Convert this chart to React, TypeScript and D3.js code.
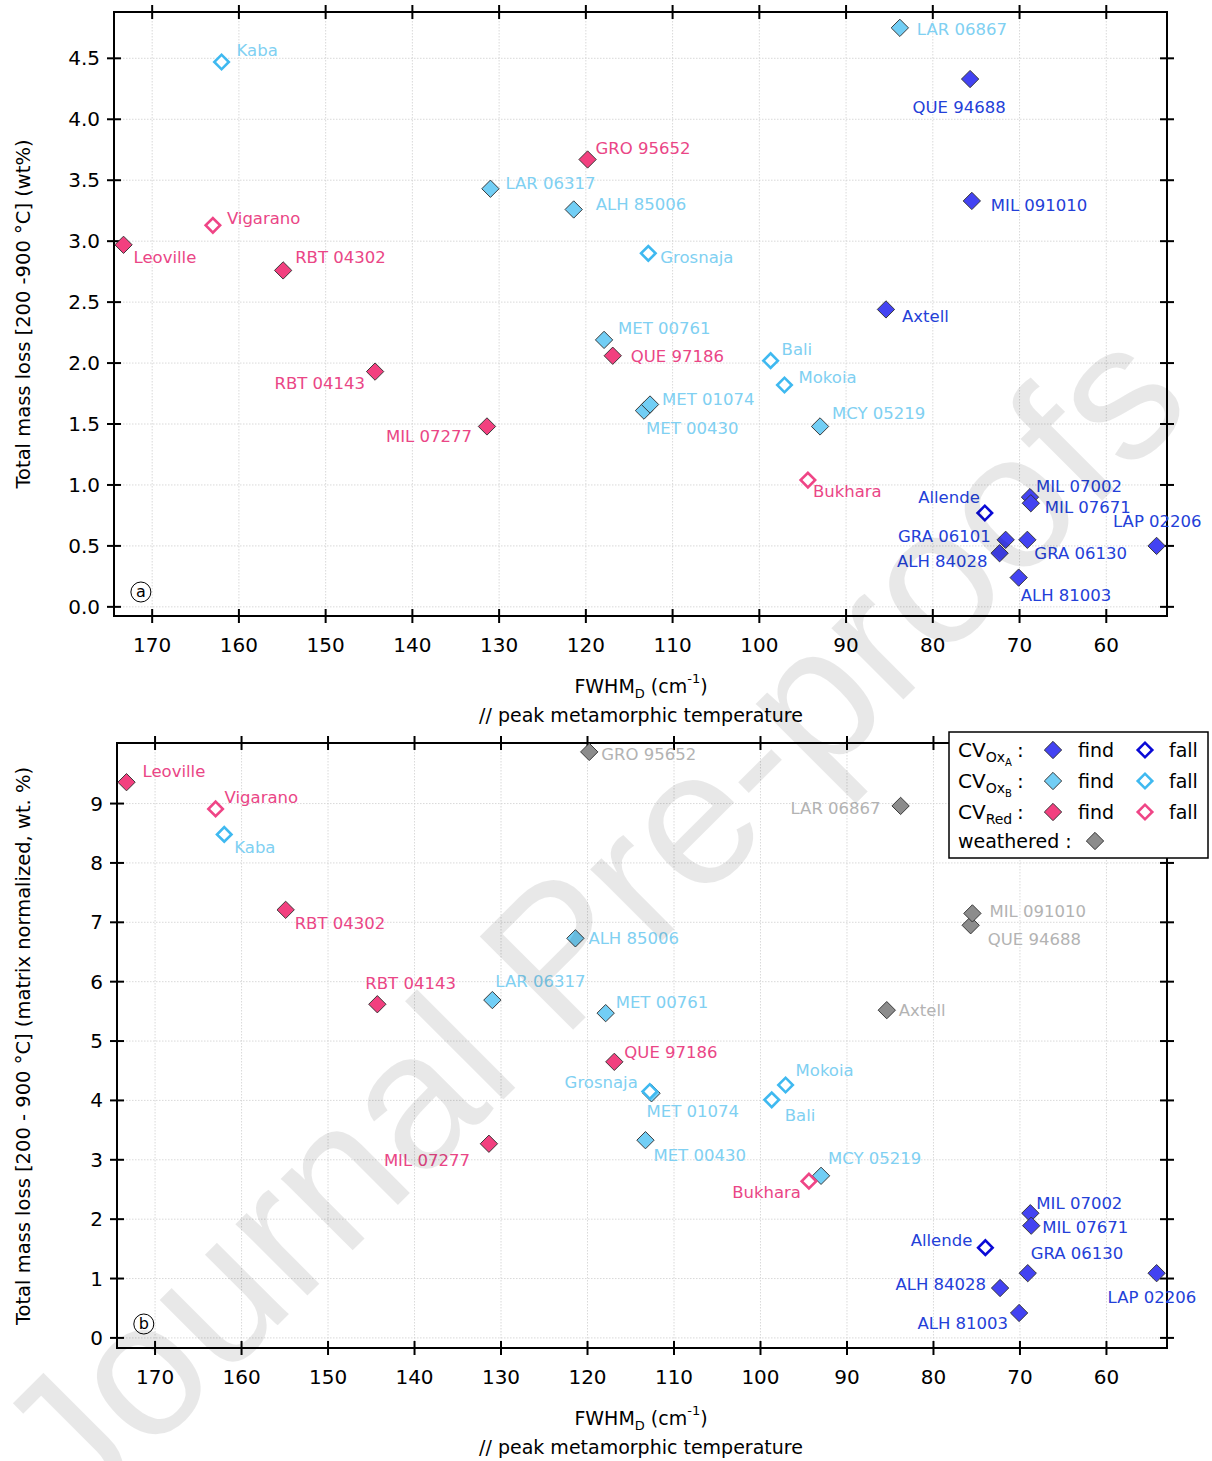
import React from 'react';
import * as d3 from 'd3';

const FONT = '"DejaVu Sans", Verdana, sans-serif';

// ---------- data ----------
const sampleNames = [
  'Leoville', 'Vigarano', 'Kaba', 'RBT 04302', 'RBT 04143', 'MIL 07277', 'LAR 06317',
  'GRO 95652', 'ALH 85006', 'Grosnaja', 'MET 00761', 'QUE 97186', 'MET 00430', 'MET 01074',
  'Bali', 'Mokoia', 'MCY 05219', 'Bukhara', 'LAR 06867', 'QUE 94688', 'MIL 091010', 'Axtell',
  'Allende', 'MIL 07002', 'MIL 07671', 'GRA 06101', 'ALH 84028', 'GRA 06130', 'ALH 81003', 'LAP 02206',
];
const sampleClass = [
  'Red', 'Red', 'B', 'Red', 'Red', 'Red', 'B',
  'Red', 'B', 'B', 'B', 'Red', 'B', 'B',
  'B', 'B', 'B', 'Red', 'B', 'A', 'A', 'A',
  'A', 'A', 'A', 'A', 'A', 'A', 'A', 'A',
];
const sampleFall = [
  false, true, true, false, false, false, false,
  false, false, true, false, false, false, false,
  true, true, false, true, false, false, false, false,
  true, false, false, false, false, false, false, false,
];
const weatheredInB = [
  false, false, false, false, false, false, false,
  true, false, false, false, false, false, false,
  false, false, false, false, true, true, true, true,
  false, false, false, false, false, false, false, false,
];
const fwhmD = [
  173.3, 163.0, 162.0, 154.9, 144.3, 131.4, 131.0,
  119.8, 121.4, 112.8, 117.9, 116.9, 113.3, 112.6,
  98.7, 97.1, 93.0, 94.4, 83.8, 75.7, 75.5, 85.4,
  74.0, 68.8, 68.7, 71.6, 72.3, 69.1, 70.1, 54.2,
];
const massLossTotal = [
  2.97, 3.13, 4.47, 2.76, 1.93, 1.48, 3.43,
  3.67, 3.26, 2.90, 2.19, 2.06, 1.61, 1.66,
  2.02, 1.82, 1.48, 1.04, 4.75, 4.33, 3.33, 2.44,
  0.77, 0.90, 0.85, 0.55, 0.44, 0.55, 0.24, 0.50,
];
const massLossMatrix = [
  9.36, 8.91, 8.48, 7.21, 5.62, 3.27, 5.69,
  9.87, 6.73, 4.15, 5.47, 4.65, 3.33, 4.12,
  4.01, 4.26, 2.73, 2.64, 8.96, 6.95, 7.15, 5.52,
  1.52, 2.10, 1.89, null, 0.84, 1.09, 0.42, 1.09,
];
const xTicks = [170, 160, 150, 140, 130, 120, 110, 100, 90, 80, 70, 60];
const yTicksA = [0, 0.5, 1.0, 1.5, 2.0, 2.5, 3.0, 3.5, 4.0, 4.5];
const yTicksB = [0, 1, 2, 3, 4, 5, 6, 7, 8, 9];

// label placement (pixel offset from marker, anchor)
const labelPosA: Record<string, [number, number, string]> = {
  'Leoville': [10, 12, 'start'], 'Vigarano': [14, -7, 'start'], 'Kaba': [15, -12, 'start'],
  'RBT 04302': [12, -13, 'start'], 'RBT 04143': [-10, 11, 'end'], 'MIL 07277': [-15, 10, 'end'],
  'LAR 06317': [15, -6, 'start'], 'GRO 95652': [8, -11, 'start'], 'ALH 85006': [22, -5, 'start'],
  'Grosnaja': [12, 4, 'start'], 'MET 00761': [14, -12, 'start'], 'QUE 97186': [18, 0, 'start'],
  'MET 01074': [12, -5, 'start'], 'MET 00430': [2, 17, 'start'], 'Bali': [11, -12, 'start'],
  'Mokoia': [14, -8, 'start'], 'MCY 05219': [12, -13, 'start'], 'Bukhara': [5, 11, 'start'],
  'LAR 06867': [17, 1, 'start'], 'QUE 94688': [-11, 28, 'middle'], 'MIL 091010': [19, 4, 'start'],
  'Axtell': [16, 7, 'start'], 'Allende': [-5, -16, 'end'], 'MIL 07002': [6, -11, 'start'],
  'MIL 07671': [14, 4, 'start'], 'LAP 02206': [45, -25, 'end'], 'GRA 06101': [-15, -4, 'end'],
  'ALH 84028': [-12, 8, 'end'], 'GRA 06130': [7, 13, 'start'], 'ALH 81003': [2, 17, 'start'],
};
const labelPosB: Record<string, [number, number, string]> = {
  'Leoville': [16, -11, 'start'], 'Vigarano': [9, -12, 'start'], 'Kaba': [10, 13, 'start'],
  'RBT 04302': [9, 13, 'start'], 'RBT 04143': [-12, -21, 'start'], 'MIL 07277': [-19, 16, 'end'],
  'LAR 06317': [3, -19, 'start'], 'GRO 95652': [12, 2, 'start'], 'ALH 85006': [13, 0, 'start'],
  'Grosnaja': [-12, -9, 'end'], 'MET 00761': [10, -11, 'start'], 'QUE 97186': [10, -10, 'start'],
  'MET 01074': [-5, 18, 'start'], 'MET 00430': [8, 15, 'start'], 'Bali': [13, 15, 'start'],
  'Mokoia': [10, -15, 'start'], 'MCY 05219': [7, -18, 'start'], 'Bukhara': [-8, 11, 'end'],
  'LAR 06867': [-20, 2, 'end'], 'MIL 091010': [17, -2, 'start'], 'QUE 94688': [17, 14, 'start'],
  'Axtell': [12, 0, 'start'], 'Allende': [-13, -8, 'end'], 'MIL 07002': [6, -10, 'start'],
  'MIL 07671': [11, 1, 'start'], 'GRA 06130': [3, -20, 'start'], 'ALH 84028': [-14, -4, 'end'],
  'ALH 81003': [-11, 10, 'end'], 'LAP 02206': [-49, 24, 'start'],
};

// ---------- styles ----------
const findFill: Record<string, string> = { A: '#4343f2', B: '#72cef5', Red: '#f2407f', W: '#8c8c8c' };
const fallStroke: Record<string, string> = { A: '#0a0ad6', B: '#3fb9f0', Red: '#ef4586' };
const labelColor: Record<string, string> = { A: '#2340d8', B: '#80d0f2', Red: '#ea4686', W: '#b3b3b3' };

const diamondPath = d3.symbol().type(d3.symbolSquare).size(150)() as string;
const diamondPathFall = d3.symbol().type(d3.symbolSquare).size(105)() as string;

function Marker({ cx, cy, cls, fall }: { cx: number; cy: number; cls: string; fall: boolean }) {
  if (fall) {
    return (
      <path d={diamondPathFall} transform={`translate(${cx},${cy}) rotate(45)`} fill="#fff"
        stroke={fallStroke[cls]} strokeWidth={2.6} />
    );
  }
  return (
    <path d={diamondPath} transform={`translate(${cx},${cy}) rotate(45)`} fill={findFill[cls]}
      stroke="#333" strokeWidth={0.9} />
  );
}

const xDomain = [174.4, 53];

type PanelProps = {
  left: number; right: number; top: number; bottom: number;
  yDomain: [number, number]; values: (number | null)[]; useWeathered: boolean;
  labelPos: Record<string, [number, number, string]>; yTicks: number[]; yFmt: (v: number) => string;
  letter: string; yTitle: string; yTitleY: number;
};

function Panel(p: PanelProps) {
  const x = d3.scaleLinear().domain(xDomain).range([p.left, p.right]);
  const y = d3.scaleLinear().domain(p.yDomain).range([p.bottom, p.top]);
  const pts = sampleNames.map((name, i) => ({
    name, cls: p.useWeathered && weatheredInB[i] ? 'W' : sampleClass[i],
    fall: sampleFall[i], xv: fwhmD[i], yv: p.values[i],
  })).filter(d => d.yv !== null);
  const ordered = [...pts.filter(d => !d.fall), ...pts.filter(d => d.fall)];
  const tk = 7;
  const xMid = 641;
  return (
    <g>
      {/* grid */}
      {xTicks.map(t => (
        <line key={'gx' + t} x1={x(t)} x2={x(t)} y1={p.top} y2={p.bottom} stroke="#cfcfcf"
          strokeWidth={0.8} strokeDasharray="1.5,1.5" />
      ))}
      {p.yTicks.map(t => (
        <line key={'gy' + t} x1={p.left} x2={p.right} y1={y(t)} y2={y(t)} stroke="#cfcfcf"
          strokeWidth={0.8} strokeDasharray="1.5,1.5" />
      ))}
      {/* frame */}
      <rect x={p.left} y={p.top} width={p.right - p.left} height={p.bottom - p.top} fill="none"
        stroke="#000" strokeWidth={2} />
      {xTicks.map(t => (
        <g key={'tx' + t}>
          <line x1={x(t)} x2={x(t)} y1={p.bottom - tk} y2={p.bottom + tk} stroke="#000" strokeWidth={2} />
          <line x1={x(t)} x2={x(t)} y1={p.top - tk} y2={p.top + tk} stroke="#000" strokeWidth={2} />
          <text x={x(t)} y={p.bottom + 36} textAnchor="middle" fontSize={20} fontFamily={FONT}>{t}</text>
        </g>
      ))}
      {p.yTicks.map(t => (
        <g key={'ty' + t}>
          <line x1={p.left - tk} x2={p.left + tk} y1={y(t)} y2={y(t)} stroke="#000" strokeWidth={2} />
          <line x1={p.right - tk} x2={p.right + tk} y1={y(t)} y2={y(t)} stroke="#000" strokeWidth={2} />
          <text x={p.left - 14} y={y(t) + 7} textAnchor="end" fontSize={20} fontFamily={FONT}>{p.yFmt(t)}</text>
        </g>
      ))}
      {/* markers */}
      {ordered.map(d => (
        <Marker key={'m' + d.name} cx={x(d.xv)} cy={y(d.yv as number)} cls={d.cls} fall={d.fall} />
      ))}
      {/* labels */}
      {ordered.map(d => {
        const lp = p.labelPos[d.name] || [10, 0, 'start'];
        return (
          <text key={'l' + d.name} x={x(d.xv) + lp[0]} y={y(d.yv as number) + lp[1]} dy="0.36em"
            textAnchor={lp[2] as any} fontSize={16.5} fontFamily={FONT} fill={labelColor[d.cls]}>
            {d.name}
          </text>
        );
      })}
      {/* panel letter */}
      <circle cx={x(171.3)} cy={y(p.yDomain[0]) - 24} r={10} fill="none" stroke="#000" strokeWidth={1} />
      <text x={x(171.3)} y={y(p.yDomain[0]) - 24} dy="0.33em" textAnchor="middle" fontSize={16}
        fontFamily={FONT}>{p.letter}</text>
      {/* axis titles */}
      <text transform={`translate(30,${p.yTitleY}) rotate(-90)`} textAnchor="middle" fontSize={19.5}
        fontFamily={FONT}>{p.yTitle}</text>
      <text x={xMid} y={p.bottom + 77} textAnchor="middle" fontSize={19} fontFamily={FONT}>
        FWHM<tspan fontSize={13} dy={5}>D</tspan><tspan dy={-5}> (cm</tspan>
        <tspan fontSize={13} dy={-10}>-1</tspan><tspan dy={10}>)</tspan>
      </text>
      <text x={xMid} y={p.bottom + 106} textAnchor="middle" fontSize={19} fontFamily={FONT}>
        // peak metamorphic temperature
      </text>
    </g>
  );
}

const legendRows = [
  { main: 'CV', sub: 'Ox', subsub: 'A', cls: 'A' },
  { main: 'CV', sub: 'Ox', subsub: 'B', cls: 'B' },
  { main: 'CV', sub: 'Red', subsub: '', cls: 'Red' },
];

function Legend() {
  const rowY = [750, 781, 812];
  return (
    <g>
      <rect x={949} y={732} width={259} height={126} fill="#fff" stroke="#000" strokeWidth={1.5} />
      {legendRows.map((r, i) => (
        <g key={r.cls}>
          <text x={958} y={rowY[i] + 7} fontSize={20} fontFamily={FONT}>
            {r.main}
            <tspan fontSize={14} dy={5}>{r.sub}</tspan>
            {r.subsub ? <tspan fontSize={10} dy={4}>{r.subsub}</tspan> : null}
          </text>
          <text x={1017} y={rowY[i] + 7} fontSize={20} fontFamily={FONT}>:</text>
          <Marker cx={1053} cy={rowY[i]} cls={r.cls} fall={false} />
          <text x={1078} y={rowY[i] + 7} fontSize={19} fontFamily={FONT}>find</text>
          <Marker cx={1145} cy={rowY[i]} cls={r.cls} fall={true} />
          <text x={1169} y={rowY[i] + 7} fontSize={19} fontFamily={FONT}>fall</text>
        </g>
      ))}
      <text x={958} y={848} fontSize={19} fontFamily={FONT}>weathered :</text>
      <Marker cx={1095} cy={841} cls="W" fall={false} />
    </g>
  );
}

export default function App() {
  return (
    <svg width={1212} height={1461} style={{ position: 'absolute', left: 0, top: 0, background: '#fff' }}>
      <rect width={1212} height={1461} fill="#fff" />
      <Panel left={114} right={1167} top={12} bottom={616} yDomain={[-0.075, 4.88]}
        values={massLossTotal} useWeathered={false} labelPos={labelPosA} yTicks={yTicksA}
        yFmt={v => v.toFixed(1)} letter="a" yTitle="Total mass loss [200 -900 °C] (wt%)" yTitleY={314} />
      <Panel left={117} right={1167} top={743} bottom={1348} yDomain={[-0.17, 10.02]}
        values={massLossMatrix} useWeathered={true} labelPos={labelPosB} yTicks={yTicksB}
        yFmt={v => String(v)} letter="b" yTitle="Total mass loss [200 - 900 °C] (matrix normalized, wt. %)"
        yTitleY={1046} />
      <Legend />
      <text transform="translate(590,918) rotate(-45)" textAnchor="middle" dy="0.35em" fontSize={192}
        fontFamily={'"Liberation Sans", Arial, sans-serif'} fill="#000" fillOpacity={0.09}>
        Journal Pre-proofs
      </text>
    </svg>
  );
}
